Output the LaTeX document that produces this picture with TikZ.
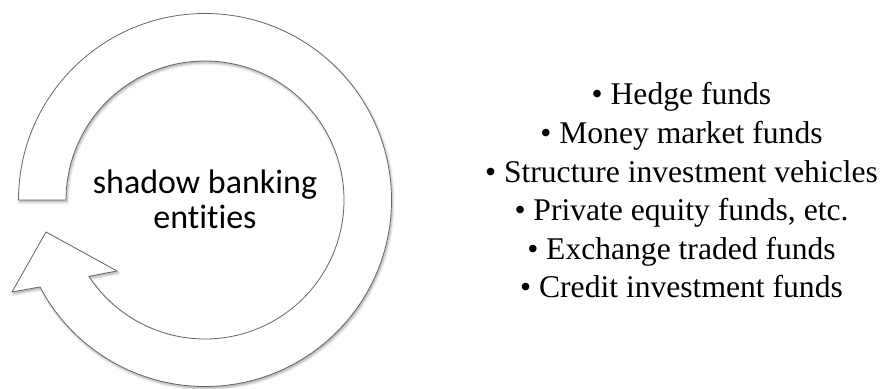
\documentclass[tikz,border=0pt]{standalone}
\usepackage{fontspec}
\setmainfont{Liberation Serif}
\newfontfamily\calib[Ligatures=NoCommon]{Carlito}
\usetikzlibrary{shadows.blur}
\begin{document}
\begin{tikzpicture}[x=1pt,y=1pt,
  ringarrow/.style={draw=black!60, line width=0.8pt, fill=white, line join=miter,
    blur shadow={shadow xshift=1.2pt, shadow yshift=-2pt, shadow blur radius=2.5pt, shadow opacity=35}},
  centertext/.style={font=\calib\fontsize{34}{36}\selectfont, anchor=base, inner sep=0pt},
  listitem/.style={font=\fontsize{31.6}{38}\selectfont, anchor=base, inner sep=0pt}]
\useasboundingbox (0,0) rectangle (883,388);
% circular arrow
\coordinate (c) at (205,188);
\coordinate (tailout) at (18.5,188);
\coordinate (barbout) at (12,96);
\coordinate (tip) at (46,156);
\coordinate (barbin) at (117,117);
\path[ringarrow] (tailout) arc[start angle=180, end angle=-152.2, radius=186.5]
  -- (barbout) -- (tip) -- (barbin)
  -- ($(c)+(-146.7:139)$) arc[start angle=-146.7, end angle=180, radius=139] -- cycle;
% centre label
\node[centertext] (l1) at (205,194) {shadow banking};
\node[centertext] (l2) at (205,159) {entities};
% list
\node[listitem] (i1) at (691,283) {\llap{•\ }Hedge funds};
\node[listitem] (i2) at (691,244.4) {\llap{•\ }Money market funds};
\node[listitem] (i3) at (691,205.8) {\llap{•\ }Structure investment vehicles};
\node[listitem] (i4) at (691,167.2) {\llap{•\ }Private equity funds, etc.};
\node[listitem] (i5) at (691,128.6) {\llap{•\ }Exchange traded funds};
\node[listitem] (i6) at (691,90) {\llap{•\ }Credit investment funds};
\end{tikzpicture}
\end{document}
